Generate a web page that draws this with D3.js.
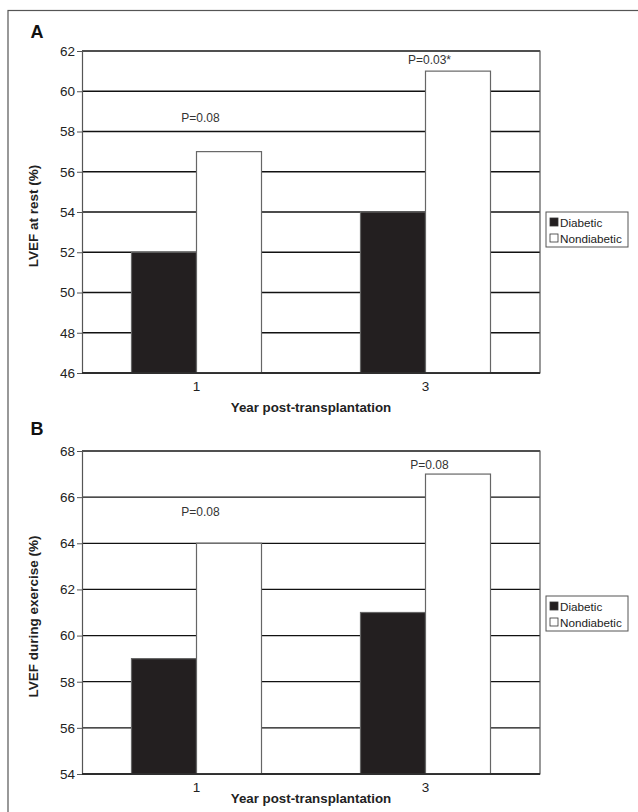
<!DOCTYPE html>
<html><head><meta charset="utf-8">
<script src="https://cdn.jsdelivr.net/npm/d3@7"></script>
<style>body{margin:0;background:#fff}svg{display:block;font-family:"Liberation Sans",Arial,sans-serif}</style>
</head><body>
<svg id="c" width="638" height="812"></svg>
<script>
const categories = ["1", "3"];
const seriesNames = ["Diabetic", "Nondiabetic"];
const restDiabetic = [52, 54];
const restNondiabetic = [57, 61];
const exDiabetic = [59, 61];
const exNondiabetic = [64, 67];
const restTicks = [46, 48, 50, 52, 54, 56, 58, 60, 62];
const exTicks = [54, 56, 58, 60, 62, 64, 66, 68];
const restP = ["P=0.08", "P=0.03*"];
const restPLevel = [58.45, 61.35];
const exP = ["P=0.08", "P=0.08"];
const exPLevel = [65.2, 67.2];

const svg = d3.select("#c");
// outer frame (left and top visible)
svg.append("rect").attr("x", 8).attr("y", 10.5).attr("width", 640).attr("height", 820)
  .attr("fill", "none").attr("stroke", "#555").attr("stroke-width", 1.2);

const fills = {Diabetic: "#231f20", Nondiabetic: "#fff"};

function panel(cfg) {
  const g = svg.append("g");
  const y = d3.scaleLinear().domain(cfg.domain).range([cfg.bottom, cfg.top]);
  const x0 = d3.scaleBand().domain(categories).range([82, 540]);
  const x1 = d3.scaleBand().domain(seriesNames).range([0, x0.bandwidth()]).paddingOuter(0.7615);
  // gridlines
  g.selectAll(".grid").data(cfg.ticks).join("line")
    .attr("x1", 82).attr("x2", 540).attr("y1", d => y(d)).attr("y2", d => y(d))
    .attr("stroke", "#111").attr("stroke-width", 1.3);
  // y axis
  const ya = g.append("g").attr("transform", "translate(82,0)")
    .call(d3.axisLeft(y).tickValues(cfg.ticks).tickSize(5).tickPadding(2));
  ya.select(".domain").attr("stroke", "#555").attr("stroke-width", 1.2);
  ya.selectAll(".tick line").attr("stroke", "#555");
  ya.selectAll("text").attr("font-size", 13.5).attr("fill", "#222").attr("font-family", '"Liberation Sans",Arial,sans-serif');
  // bars
  const data = [];
  categories.forEach((c, i) => {
    data.push({c, s: "Diabetic", v: cfg.dia[i]});
    data.push({c, s: "Nondiabetic", v: cfg.non[i]});
  });
  g.selectAll(".bar").data(data).join("rect")
    .attr("x", d => x0(d.c) + x1(d.s)).attr("width", x1.bandwidth())
    .attr("y", d => y(d.v)).attr("height", d => y(cfg.domain[0]) - y(d.v))
    .attr("fill", d => fills[d.s]).attr("stroke", "#666").attr("stroke-width", 1.2);
  // plot border (top, right, bottom)
  g.append("path")
    .attr("d", `M82,${cfg.top}H540V${cfg.bottom}H82`)
    .attr("fill", "none").attr("stroke", "#555").attr("stroke-width", 1.2);
  g.append("line").attr("x1", 82).attr("x2", 540).attr("y1", cfg.bottom).attr("y2", cfg.bottom)
    .attr("stroke", "#222").attr("stroke-width", 1.3);
  // x axis labels
  g.selectAll(".xl").data(categories).join("text")
    .attr("x", d => x0(d) + x0.bandwidth() / 2).attr("y", cfg.bottom + 18)
    .attr("text-anchor", "middle").attr("font-size", 13.5).attr("fill", "#222").text(d => d);
  g.append("text").attr("x", 311).attr("y", cfg.xTitleY).attr("text-anchor", "middle")
    .attr("font-size", 13.3).attr("font-weight", "bold").attr("fill", "#222").text("Year post-transplantation");
  // y title
  g.append("text").attr("transform", `translate(38,${(cfg.top + cfg.bottom) / 2 + 4}) rotate(-90)`)
    .attr("text-anchor", "middle").attr("font-size", 13.5).attr("font-weight", "bold").attr("fill", "#222")
    .text(cfg.yTitle);
  // p-values
  g.selectAll(".p").data(categories).join("text")
    .attr("x", d => x0(d) + x0.bandwidth() / 2 + 4).attr("y", (d, i) => y(cfg.pLevel[i]))
    .attr("text-anchor", "middle").attr("font-size", 12).attr("fill", "#333")
    .text((d, i) => cfg.pText[i]);
  // panel letter
  g.append("text").attr("x", 30.5).attr("y", cfg.letterY).attr("font-size", 18).attr("font-weight", "bold")
    .attr("fill", "#111").text(cfg.letter);
  // legend
  const lg = g.append("g").attr("transform", `translate(546,${cfg.legTop})`);
  lg.append("rect").attr("x", 0).attr("y", 0).attr("width", 82).attr("height", 35)
    .attr("fill", "#fff").attr("stroke", "#555").attr("stroke-width", 1);
  seriesNames.forEach((s, i) => {
    lg.append("rect").attr("x", 4).attr("y", 6 + i * 16).attr("width", 8).attr("height", 8)
      .attr("fill", fills[s]).attr("stroke", "#333").attr("stroke-width", 0.8);
    lg.append("text").attr("x", 14).attr("y", 14.5 + i * 16).attr("font-size", 11.7).attr("fill", "#222").text(s);
  });
}

panel({domain: [46, 62], ticks: restTicks, top: 51, bottom: 373, dia: restDiabetic, non: restNondiabetic,
  yTitle: "LVEF at rest (%)", pText: restP, pLevel: restPLevel, letter: "A", letterY: 38,
  xTitleY: 412, legTop: 212});
panel({domain: [54, 68], ticks: exTicks, top: 451, bottom: 774, dia: exDiabetic, non: exNondiabetic,
  yTitle: "LVEF during exercise (%)", pText: exP, pLevel: exPLevel, letter: "B", letterY: 435,
  xTitleY: 803, legTop: 596});
</script>
</body></html>
